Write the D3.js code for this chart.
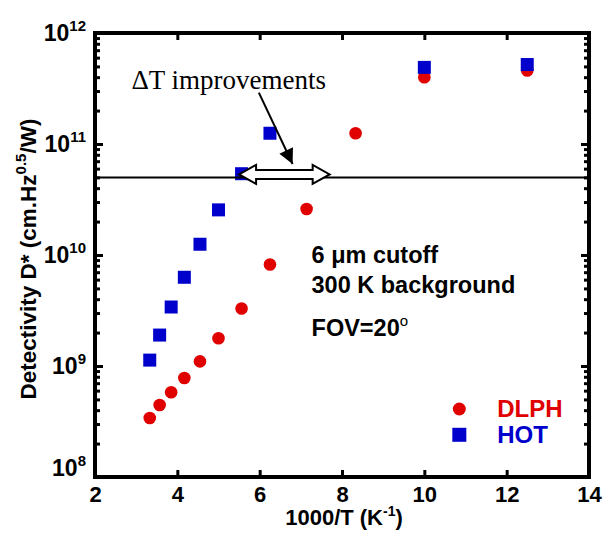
<!DOCTYPE html>
<html>
<head>
<meta charset="utf-8">
<script src="https://cdn.jsdelivr.net/npm/d3@7"></script>
<style>
  body { margin: 0; background: #fff; }
  text { font-family: "Liberation Sans", Arial, sans-serif; font-weight: bold; }
</style>
</head>
<body>
<div id="chart"></div>
<script>
// data (x = 1000/T, y = D*)
var hotX  = [3.33, 3.57, 3.85, 4.17, 4.55, 5.0, 5.56, 6.25, 10, 12.5];
var hotD  = [1.13e9, 1.9e9, 3.4e9, 6.3e9, 1.25e10, 2.55e10, 5.4e10, 1.25e11, 4.9e11, 5.2e11];
var dlphX = [3.33, 3.57, 3.85, 4.17, 4.55, 5.0, 5.56, 6.25, 7.14, 8.33, 10, 12.5];
var dlphD = [3.4e8, 4.45e8, 5.8e8, 7.8e8, 1.1e9, 1.78e9, 3.3e9, 8.2e9, 2.6e10, 1.25e11, 4.0e11, 4.6e11];
var xTicks = [2, 4, 6, 8, 10, 12, 14];
var yExps = [8, 9, 10, 11, 12];
var limitD = 5e10;          // horizontal reference line
var gapX = [5.5, 7.7];      // ΔT double arrow span

var svgWidth = 603, svgHeight = 533;
var margin = { top: 33, right: 14, bottom: 56, left: 95 };
var width = svgWidth - margin.left - margin.right;
var height = svgHeight - margin.top - margin.bottom;

var svg = d3.select("#chart").append("svg")
  .attr("width", svgWidth)
  .attr("height", svgHeight);

var chartGroup = svg.append("g")
  .attr("transform", `translate(${margin.left}, ${margin.top})`);

var x = d3.scaleLinear().domain([2, 14]).range([0, width]);
var y = d3.scaleLog().domain([1e8, 1e12]).range([height, 0]);

// minor log ticks
var minor = [];
yExps.slice(0, -1).forEach(function(e) {
  for (var k = 2; k <= 9; k++) minor.push(k * Math.pow(10, e));
});
var majorY = yExps.map(e => Math.pow(10, e));

// bottom axis
var xAxis = chartGroup.append("g")
  .attr("transform", `translate(0, ${height})`)
  .call(d3.axisBottom(x).tickValues(xTicks).tickSize(-7).tickPadding(9).tickFormat(d3.format("d")));
xAxis.selectAll("text").style("font-size", "22px").attr("fill", "#000");

chartGroup.append("g")
  .call(d3.axisTop(x).tickValues(xTicks).tickSize(-7).tickFormat(""));

// left / right axes
chartGroup.append("g")
  .call(d3.axisLeft(y).tickValues(majorY).tickSize(-8).tickFormat(""));
chartGroup.append("g")
  .call(d3.axisLeft(y).tickValues(minor).tickSize(-5).tickFormat(""));
chartGroup.append("g")
  .attr("transform", `translate(${width}, 0)`)
  .call(d3.axisRight(y).tickValues(majorY).tickSize(-8).tickFormat(""));
chartGroup.append("g")
  .attr("transform", `translate(${width}, 0)`)
  .call(d3.axisRight(y).tickValues(minor).tickSize(-5).tickFormat(""));

chartGroup.selectAll(".tick line").attr("stroke-width", 3);
chartGroup.selectAll(".domain").remove();

// y tick labels 10^n
yExps.forEach(function(e) {
  var t = chartGroup.append("text")
    .attr("x", -9)
    .attr("y", y(Math.pow(10, e)) + (e === 8 ? -1 : 8))
    .attr("text-anchor", "end")
    .style("font-size", "23px");
  t.append("tspan").text("10");
  t.append("tspan").attr("dy", -10).style("font-size", "15px").text(e);
});

// frame
chartGroup.append("rect")
  .attr("width", width).attr("height", height)
  .attr("fill", "none").attr("stroke", "#000").attr("stroke-width", 4);

// data points
chartGroup.selectAll(".dlph").data(dlphX).enter()
  .append("circle")
  .attr("cx", d => x(d))
  .attr("cy", (d, i) => y(dlphD[i]))
  .attr("r", 6.3)
  .attr("fill", "#e00000");

chartGroup.selectAll(".hot").data(hotX).enter()
  .append("rect")
  .attr("x", d => x(d) - 6.5)
  .attr("y", (d, i) => y(hotD[i]) - 6.5)
  .attr("width", 13).attr("height", 13)
  .attr("fill", "#0000cc");

// reference line
chartGroup.append("line")
  .attr("x1", 0).attr("x2", width)
  .attr("y1", y(limitD)).attr("y2", y(limitD))
  .attr("stroke", "#000").attr("stroke-width", 2);

// double arrow
var ax1 = x(gapX[0]), ax2 = x(gapX[1]), ay = y(limitD) - 3;
var hl = 17, hh = 9.5, bh = 4.5;
var pts = [
  [ax1, ay], [ax1 + hl, ay - hh], [ax1 + hl, ay - bh], [ax2 - hl, ay - bh], [ax2 - hl, ay - hh],
  [ax2, ay], [ax2 - hl, ay + hh], [ax2 - hl, ay + bh], [ax1 + hl, ay + bh], [ax1 + hl, ay + hh]
];
chartGroup.append("polygon")
  .attr("points", pts.map(p => p.join(",")).join(" "))
  .attr("fill", "#fff").attr("stroke", "#000").attr("stroke-width", 2);

// pointer arrow
svg.append("defs").append("marker")
  .attr("id", "head").attr("viewBox", "0 0 10 10")
  .attr("refX", 10).attr("refY", 5)
  .attr("markerWidth", 18).attr("markerHeight", 15)
  .attr("markerUnits", "userSpaceOnUse")
  .attr("orient", "auto")
  .append("path").attr("d", "M0,0 L10,5 L0,10 Z").attr("fill", "#000");

chartGroup.append("line")
  .attr("x1", x(5.98)).attr("y1", y(2.9e11))
  .attr("x2", x(6.8)).attr("y2", y(6.6e10))
  .attr("stroke", "#000").attr("stroke-width", 2)
  .attr("marker-end", "url(#head)");

chartGroup.append("text")
  .attr("x", x(5.25)).attr("y", y(3.1e11))
  .attr("text-anchor", "middle")
  .style("font-family", "'Liberation Serif', 'Times New Roman', serif")
  .style("font-weight", "normal")
  .style("font-size", "27px")
  .text("\u0394T improvements");

// condition notes
var notes = chartGroup.append("g").style("font-size", "23.5px");
notes.append("text").attr("x", x(7.26)).attr("y", y(8.5e9)).text("6 \u03bcm cutoff");
notes.append("text").attr("x", x(7.26)).attr("y", y(4.5e9)).text("300 K background");
var fov = notes.append("text").attr("x", x(7.26)).attr("y", y(1.86e9));
fov.append("tspan").text("FOV=20");
fov.append("tspan").attr("dy", -10).style("font-size", "15px").style("font-weight", "normal").text("o");

// legend
var legend = chartGroup.append("g").style("font-size", "24px");
legend.append("circle").attr("cx", x(10.85)).attr("cy", y(4.1e8)).attr("r", 6.5).attr("fill", "#e00000");
legend.append("rect").attr("x", x(10.85) - 7).attr("y", y(2.4e8) - 7).attr("width", 14).attr("height", 14).attr("fill", "#0000cc");
legend.append("text").attr("x", x(11.77)).attr("y", y(4.1e8) + 8).attr("fill", "#e00000").text("DLPH");
legend.append("text").attr("x", x(11.77)).attr("y", y(2.4e8) + 8).attr("fill", "#0000cc").text("HOT");

// axis titles
var xt = svg.append("text")
  .attr("x", margin.left + width / 2 + 2)
  .attr("y", 525)
  .attr("text-anchor", "middle")
  .style("font-size", "22px");
xt.append("tspan").text("1000/T (K");
xt.append("tspan").attr("dy", -9).style("font-size", "14px").text("-1");
xt.append("tspan").attr("dy", 9).text(")");

var yt = svg.append("text")
  .attr("transform", `translate(36, ${margin.top + height / 2 + 4}) rotate(-90)`)
  .attr("text-anchor", "middle")
  .style("font-size", "22.5px");
yt.append("tspan").text("Detectivity D* (cm.Hz");
yt.append("tspan").attr("dy", -10).style("font-size", "15px").text("0.5");
yt.append("tspan").attr("dy", 10).text("/W)");
</script>
</body>
</html>
